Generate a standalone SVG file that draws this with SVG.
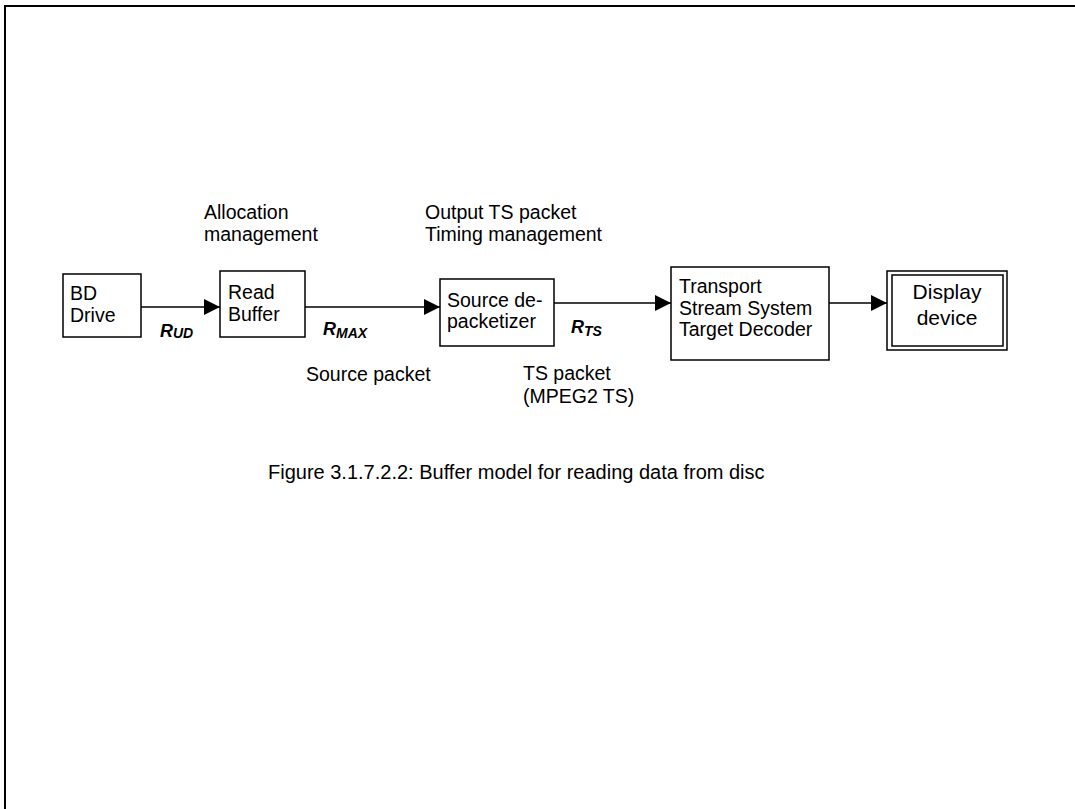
<svg xmlns="http://www.w3.org/2000/svg" width="1075" height="809" viewBox="0 0 1075 809">
<style>
.box{fill:#fff;stroke:#000;stroke-width:1.5}
.t{font-family:"Liberation Sans",Arial,sans-serif;font-size:19.5px;fill:#000}
.r{font-family:"Liberation Sans",Arial,sans-serif;font-size:18px;font-weight:bold;font-style:italic;fill:#000}
.rs{font-size:14px}
.ln{stroke:#000;stroke-width:1.5;fill:none}
</style>
<defs>
<marker id="ah" viewBox="0 0 16 16" refX="16" refY="8" markerWidth="16" markerHeight="16" markerUnits="userSpaceOnUse" orient="auto">
<path d="M0,0 L16,8 L0,16 Z" fill="#000"/>
</marker>
</defs>
<rect width="1075" height="809" fill="#fff"/>
<path d="M5,809 V6 H1075" fill="none" stroke="#000" stroke-width="2"/>
<g id="connectors">
<line class="ln" x1="141" y1="307" x2="220" y2="307" marker-end="url(#ah)"/>
<line class="ln" x1="305" y1="307" x2="440" y2="307" marker-end="url(#ah)"/>
<line class="ln" x1="554" y1="303" x2="671" y2="303" marker-end="url(#ah)"/>
<line class="ln" x1="829" y1="303" x2="887" y2="303" marker-end="url(#ah)"/>
</g>
<g id="bd-drive">
<rect class="box" x="63" y="274" width="78" height="63"/>
<text class="t" x="70" y="300">BD</text>
<text class="t" x="70" y="322">Drive</text>
</g>
<g id="read-buffer">
<rect class="box" x="220" y="271" width="85" height="66"/>
<text class="t" x="228" y="299">Read</text>
<text class="t" x="228" y="321">Buffer</text>
</g>
<g id="source-depacketizer">
<rect class="box" x="440" y="279" width="114" height="67"/>
<text class="t" x="447" y="307">Source de-</text>
<text class="t" x="447" y="328">packetizer</text>
</g>
<g id="tsstd">
<rect class="box" x="671" y="267" width="158" height="93"/>
<text class="t" x="679" y="293">Transport</text>
<text class="t" x="679" y="315">Stream System</text>
<text class="t" x="679" y="336">Target Decoder</text>
</g>
<g id="display-device">
<rect class="box" x="887" y="271" width="120" height="79"/>
<rect class="box" x="892" y="275" width="111" height="71"/>
<text class="t" x="947" y="299" text-anchor="middle" style="font-size:21px">Display</text>
<text class="t" x="947" y="325" text-anchor="middle" style="font-size:21px">device</text>
</g>
<g id="labels">
<text class="t" x="204" y="219">Allocation</text>
<text class="t" x="204" y="241">management</text>
<text class="t" x="425" y="219">Output TS packet</text>
<text class="t" x="425" y="241">Timing management</text>
<text class="r" x="160" y="337">R<tspan class="rs" dy="1">UD</tspan></text>
<text class="r" x="323" y="335">R<tspan class="rs" dy="3">MAX</tspan></text>
<text class="r" x="571" y="333">R<tspan class="rs" dy="3">TS</tspan></text>
<text class="t" x="306" y="381">Source packet</text>
<text class="t" x="523" y="380">TS packet</text>
<text class="t" x="523" y="403">(MPEG2 TS)</text>
<text class="t" x="268" y="479" style="font-size:20px">Figure 3.1.7.2.2: Buffer model for reading data from disc</text>
</g>
</svg>
